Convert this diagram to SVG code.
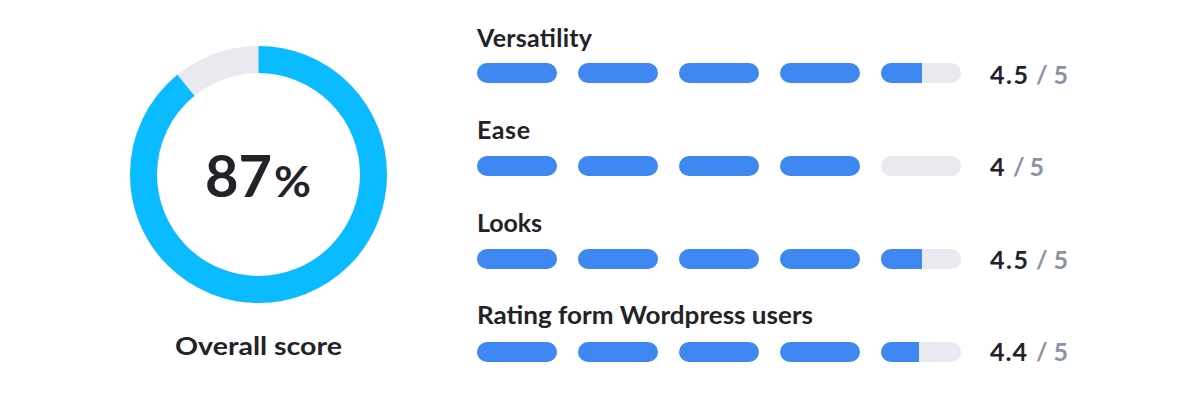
<svg xmlns="http://www.w3.org/2000/svg" width="1200" height="403" viewBox="0 0 1200 403">
<style>
.lbl{font-family:Lato,"Noto Sans",sans-serif;font-weight:700;font-size:25px;fill:#222228}
.num{font-family:Lato,"Noto Sans",sans-serif;font-weight:700;font-size:25px;fill:#222228}
.den{fill:#8a93a3}
.on{fill:#3f88f2}
.off{fill:#e8eaef}
</style>
<defs>
<clipPath id="c5"><rect x="881" y="0" width="80" height="20" rx="10"/></clipPath>
</defs>
<rect width="1200" height="403" fill="#ffffff"/>
<g id="donut">
<circle cx="258.5" cy="174.5" r="115" fill="none" stroke="#e8eaef" stroke-width="27"/>
<circle cx="258.5" cy="174.5" r="115" fill="none" stroke="#0bbbff" stroke-width="27" stroke-dasharray="643.3 1000" transform="rotate(-90 258.5 174.5)"/>
<text x="205" y="197" font-family="Lato,'Noto Sans',sans-serif" font-weight="700" font-size="57" fill="#222228" textLength="67" lengthAdjust="spacingAndGlyphs">87</text>
<text x="274" y="197" font-family="Lato,'Noto Sans',sans-serif" font-weight="700" font-size="42" fill="#222228" textLength="37" lengthAdjust="spacingAndGlyphs">%</text>
<text class="lbl" x="175" y="355" textLength="167" lengthAdjust="spacingAndGlyphs">Overall score</text>
</g>
<g id="versatility">
<text class="lbl" x="477" y="47" textLength="115">Versatility</text>
<rect class="on" x="477" y="63" width="80" height="20" rx="10"/>
<rect class="on" x="578" y="63" width="80" height="20" rx="10"/>
<rect class="on" x="679" y="63" width="80" height="20" rx="10"/>
<rect class="on" x="780" y="63" width="80" height="20" rx="10"/>
<g transform="translate(0 63)" clip-path="url(#c5)"><rect class="off" x="881" y="0" width="80" height="20"/><rect class="on" x="881" y="0" width="41" height="20"/></g>
<text class="num" x="990" y="83.5" textLength="38">4.5</text>
<text class="num den" x="1036" y="83.5" textLength="32">/ 5</text>
</g>
<g id="ease">
<text class="lbl" x="477" y="139" textLength="53">Ease</text>
<rect class="on" x="477" y="156" width="80" height="20" rx="10"/>
<rect class="on" x="578" y="156" width="80" height="20" rx="10"/>
<rect class="on" x="679" y="156" width="80" height="20" rx="10"/>
<rect class="on" x="780" y="156" width="80" height="20" rx="10"/>
<rect class="off" x="881" y="156" width="80" height="20" rx="10"/>
<text class="num" x="990" y="176">4</text>
<text class="num den" x="1013" y="176" textLength="31">/ 5</text>
</g>
<g id="looks">
<text class="lbl" x="477" y="232" textLength="65">Looks</text>
<rect class="on" x="477" y="249" width="80" height="20" rx="10"/>
<rect class="on" x="578" y="249" width="80" height="20" rx="10"/>
<rect class="on" x="679" y="249" width="80" height="20" rx="10"/>
<rect class="on" x="780" y="249" width="80" height="20" rx="10"/>
<g transform="translate(0 249)" clip-path="url(#c5)"><rect class="off" x="881" y="0" width="80" height="20"/><rect class="on" x="881" y="0" width="41" height="20"/></g>
<text class="num" x="990" y="268.5" textLength="38">4.5</text>
<text class="num den" x="1036" y="268.5" textLength="32">/ 5</text>
</g>
<g id="wordpress">
<text class="lbl" x="477" y="324" textLength="336" lengthAdjust="spacingAndGlyphs">Rating form Wordpress users</text>
<rect class="on" x="477" y="342" width="80" height="20" rx="10"/>
<rect class="on" x="578" y="342" width="80" height="20" rx="10"/>
<rect class="on" x="679" y="342" width="80" height="20" rx="10"/>
<rect class="on" x="780" y="342" width="80" height="20" rx="10"/>
<g transform="translate(0 342)" clip-path="url(#c5)"><rect class="off" x="881" y="0" width="80" height="20"/><rect class="on" x="881" y="0" width="38" height="20"/></g>
<text class="num" x="990" y="361" textLength="37">4.4</text>
<text class="num den" x="1036" y="361" textLength="32">/ 5</text>
</g>
<g id="connectors"/>
</svg>
